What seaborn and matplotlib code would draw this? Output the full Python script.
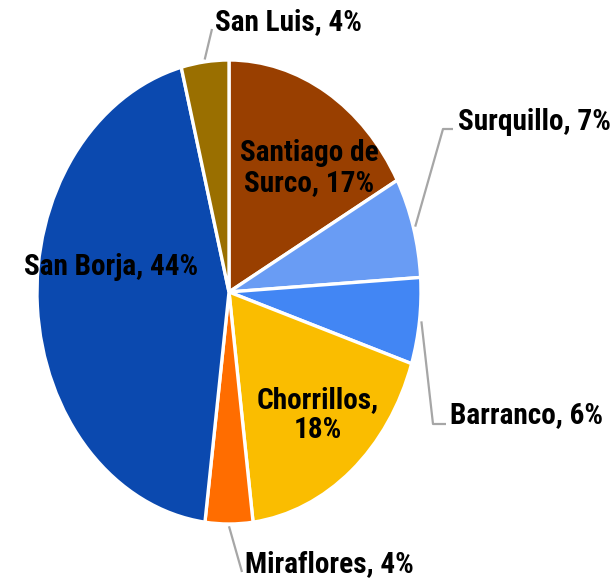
import numpy as np
import matplotlib
matplotlib.use("Agg")
import matplotlib.pyplot as plt
from matplotlib import font_manager as fm
import seaborn as sns

# Data (clockwise from 12 o'clock)
districts = ["Santiago de\nSurco", "Surquillo", "Barranco", "Chorrillos",
             "Miraflores", "San Borja", "San Luis"]
shares = [17, 7, 6, 18, 4, 44, 4]
colors = ["#993F00", "#699CF4", "#4286F4", "#FABD00",
          "#FF6D00", "#0B49AF", "#9A6F00"]

# Layout in pixels of the 616x582 canvas
W, H = 616, 582
CX, CY = 229, 292      # pie centre
RX, RY = 192, 232      # pie is stretched vertically

# inside labels: (x centre, y centre)
inside = {
    "Santiago de\nSurco": (309, 168),
    "Chorrillos": (318, 415),
    "San Borja": (111, 267),
}
# outside labels: elbow point, end of line, text left/baseline
outside = {
    "Surquillo": ((443, 129), (453, 129), (458, 130)),
    "Barranco": ((433, 424), (446, 424), (450, 423)),
    "San Luis": ((212, 29), (212, 29), (215, 30)),
    "Miraflores": ((242, 572), (242, 572), (245, 572)),
}


def px(x, y):
    return (x - CX) / RX, (CY - y) / RY


sns.set_theme(style="white")

fig = plt.figure(figsize=(W / 100, H / 100), dpi=100)
ax = fig.add_axes([0, 0, 1, 1])
renderer = fig.canvas.get_renderer()

# narrowest of the usual sans families, sized so "Surquillo, 7%" is ~153 px wide
families = ["Liberation Sans Narrow", "Roboto Condensed", "Liberation Sans",
            "Roboto", "Lato", "Inter", "Open Sans", "Noto Sans", "DejaVu Sans"]
installed = {f.name for f in fm.fontManager.ttflist}
best, best_w = None, None
for fam in families:
    if fam not in installed:
        continue
    t = fig.text(0, 0, "Surquillo, 7%", family=fam, fontweight="bold", fontsize=21)
    w = t.get_window_extent(renderer).width
    t.remove()
    if best_w is None or w < best_w:
        best, best_w = fam, w
size = 21 * 153 / best_w
font = dict(family=best, fontweight="bold", fontsize=size, color="black")

wedges, _ = ax.pie(shares, colors=colors, startangle=90, counterclock=False,
                   radius=1, center=(0, 0),
                   wedgeprops=dict(edgecolor="white", linewidth=2.4))

ax.set_aspect("auto")
ax.set_xlim(px(0, 0)[0], px(W, 0)[0])
ax.set_ylim(px(0, H)[1], px(0, 0)[1])
ax.axis("off")

for name, w, val in zip(districts, wedges, shares):
    label = f"{name}, {val}%"
    if name == "Chorrillos":
        label = f"{name},\n{val}%"
    if name in inside:
        x, y = px(*inside[name])
        ax.text(x, y, label, ha="center", va="center", linespacing=1.12, **font)
    else:
        elbow, end, txt = outside[name]
        mid = np.deg2rad((w.theta1 + w.theta2) / 2)
        sx, sy = np.cos(mid) * 1.01, np.sin(mid) * 1.01
        ex, ey = px(*elbow)
        fx, fy = px(*end)
        ax.plot([sx, ex, fx], [sy, ey, fy], color="#A6A6A6", lw=1.6,
                solid_capstyle="butt")
        tx, ty = px(*txt)
        ax.text(tx, ty, label, ha="left", va="baseline", **font)

fig.savefig("out.png", dpi=100)
